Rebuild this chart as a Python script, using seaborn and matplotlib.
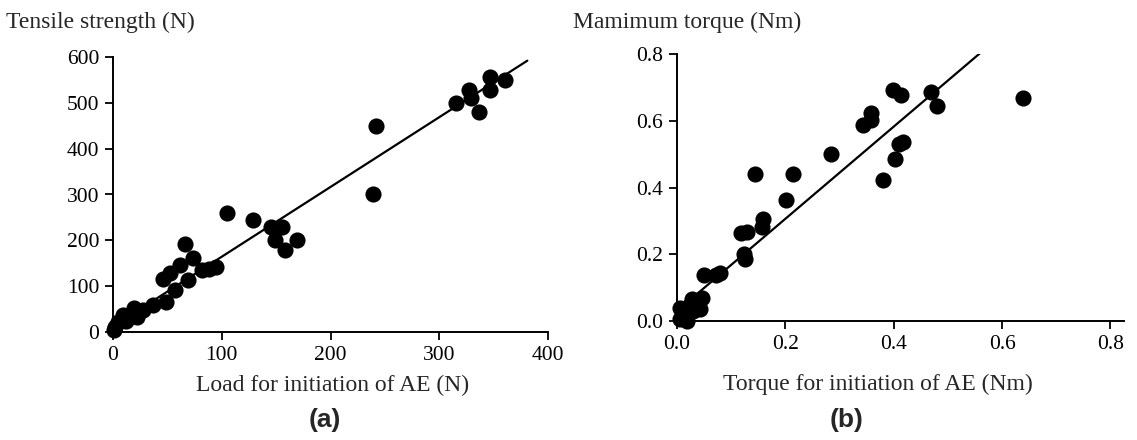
import matplotlib
matplotlib.use("Agg")
import matplotlib.pyplot as plt
import seaborn as sns
import pandas as pd

# ---- data ----
load_ae = [1, 2, 5, 9.5, 12, 19, 22, 28, 37, 46, 49, 52, 57, 61.5, 66, 69, 74, 82, 88, 95,
           105, 129, 145, 149, 155, 158, 169, 239.5, 242, 315, 327, 329, 337, 347, 347, 360]
tensile = [5, 12, 22, 37, 25, 52, 33, 48, 59, 115, 66, 128, 92, 146, 193, 113, 161, 135, 138, 142,
           260, 244, 230, 200, 230, 179, 200, 301, 450, 499, 528, 510, 479, 557, 528, 550]
fit_a_x = [0, 381]
fit_a_y = [12, 592]

torque_ae = [0.006, 0.006, 0.012, 0.018, 0.022, 0.028, 0.03, 0.043, 0.046, 0.049, 0.072, 0.08,
             0.119, 0.124, 0.125, 0.13, 0.144, 0.156, 0.159, 0.202, 0.214, 0.284, 0.344, 0.358,
             0.358, 0.381, 0.398, 0.402, 0.41, 0.418, 0.413, 0.468, 0.48, 0.638]
max_torque = [0.04, 0.005, 0.02, 0.0, 0.045, 0.065, 0.03, 0.035, 0.07, 0.137, 0.137, 0.145,
              0.263, 0.2, 0.185, 0.267, 0.441, 0.283, 0.306, 0.363, 0.441, 0.501, 0.586, 0.601,
              0.623, 0.423, 0.692, 0.486, 0.53, 0.535, 0.677, 0.687, 0.644, 0.667]
fit_b_x = [0, 0.559]
fit_b_y = [0.03, 0.802]

ticks_a_x = [0, 100, 200, 300, 400]
ticks_a_y = [0, 100, 200, 300, 400, 500, 600]
ticks_b_x = [0.0, 0.2, 0.4, 0.6, 0.8]
ticks_b_y = [0.0, 0.2, 0.4, 0.6, 0.8]

sns.set_theme(style="ticks")
SERIF = ["Liberation Serif", "DejaVu Serif"]
plt.rcParams["font.family"] = SERIF
plt.rcParams["axes.linewidth"] = 1.4

W, H = 1137, 440
fig = plt.figure(figsize=(W / 100, H / 100), dpi=100)
fig.patch.set_facecolor("white")

def px_axes(left, right, top, bottom):
    return fig.add_axes([left / W, (H - bottom) / H, (right - left) / W, (bottom - top) / H])

FS_TICK = 15.5
FS_LAB = 17
ax_a = px_axes(113, 548, 57, 332)
ax_b = px_axes(677, 1124, 54, 321)

df_a = pd.DataFrame({"x": load_ae, "y": tensile})
df_b = pd.DataFrame({"x": torque_ae, "y": max_torque})

for ax, df, fx, fy in [(ax_a, df_a, fit_a_x, fit_a_y), (ax_b, df_b, fit_b_x, fit_b_y)]:
    sns.lineplot(x=fx, y=fy, ax=ax, color="black", linewidth=1.6)
    sns.scatterplot(data=df, x="x", y="y", ax=ax, color="black", s=135,
                    edgecolor="black", linewidth=0, clip_on=False, zorder=3)
    ax.set_facecolor("white")
    sns.despine(ax=ax)
    ax.tick_params(direction="out", length=6, width=1.3, colors="black",
                   labelsize=FS_TICK, pad=4)
    ax.set_xlabel("")
    ax.set_ylabel("")
    for s in ax.spines.values():
        s.set_color("black")

ax_a.set_xlim(0, 400)
ax_a.set_ylim(0, 600)
ax_a.set_xticks(ticks_a_x)
ax_a.set_yticks(ticks_a_y)
ax_a.set_xticklabels([str(t) for t in ticks_a_x])
ax_a.set_yticklabels([str(t) for t in ticks_a_y])

ax_b.set_xlim(0, 0.825)
ax_b.set_ylim(0, 0.8)
ax_b.set_xticks(ticks_b_x)
ax_b.set_yticks(ticks_b_y)
ax_b.set_xticklabels([f"{t:.1f}" for t in ticks_b_x])
ax_b.set_yticklabels([f"{t:.1f}" for t in ticks_b_y])

def ftext(x, y, s, **kw):
    fig.text(x / W, 1 - y / H, s, **kw)

ftext(6, 22, "Tensile strength (N)", ha="left", va="center", fontsize=FS_LAB, family=SERIF)
ftext(573, 22, "Mamimum torque (Nm)", ha="left", va="center", fontsize=FS_LAB, family=SERIF)
ftext(333, 385, "Load for initiation of AE (N)", ha="center", va="center", fontsize=FS_LAB, family=SERIF)
ftext(878, 384, "Torque for initiation of AE (Nm)", ha="center", va="center", fontsize=FS_LAB, family=SERIF)
ftext(325, 420, "(a)", ha="center", va="center", fontsize=19, fontweight="bold",
      family=["Liberation Sans", "DejaVu Sans"])
ftext(847, 420, "(b)", ha="center", va="center", fontsize=19, fontweight="bold",
      family=["Liberation Sans", "DejaVu Sans"])

fig.savefig("out.png", dpi=100, facecolor="white")
